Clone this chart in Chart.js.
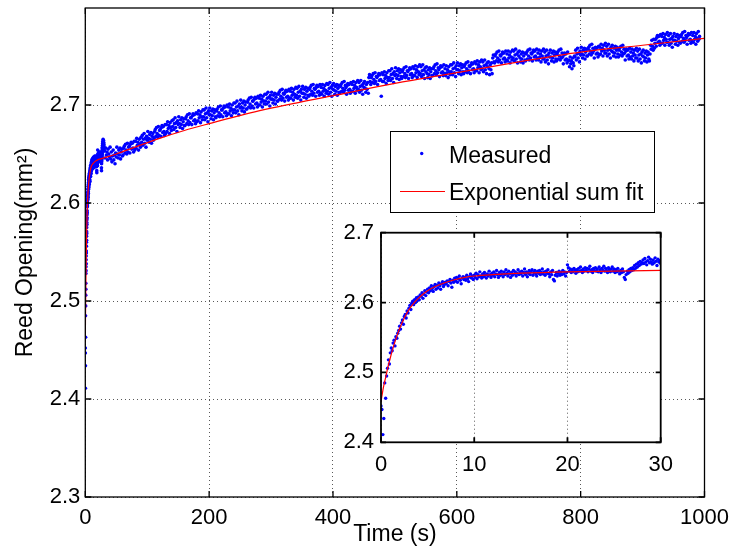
<!DOCTYPE html>
<html><head><meta charset="utf-8">
<script src="https://cdn.jsdelivr.net/npm/chart.js@4/dist/chart.umd.min.js"></script>
<style>
html,body{margin:0;padding:0;background:#fff;}
#wrap{position:relative;width:733px;height:556px;overflow:hidden;}
#main{position:absolute;left:0;top:0;}
#inset{position:absolute;left:330px;top:215px;}
</style></head><body>
<div id="wrap"><canvas id="main" width="733" height="556"></canvas><canvas id="inset" width="345" height="265"></canvas></div>
<script>
// ---- data ----
const seriesLabels = ['Measured', 'Exponential sum fit'];
const earlyStart = 0, earlyStep = 0.1;          // seconds, t = 0 .. 30
const measuredEarly = [
2.452,2.447,2.411,2.434,2.485,2.463,2.495,2.506,2.518,2.512,
2.528,2.535,2.531,2.542,2.546,2.538,2.551,2.549,2.556,2.560,
2.566,2.562,2.571,2.575,2.569,2.580,2.583,2.578,2.588,2.585,
2.592,2.596,2.590,2.599,2.602,2.597,2.604,2.600,2.607,2.603,
2.608,2.604,2.611,2.609,2.614,2.606,2.612,2.617,2.610,2.615,
2.619,2.614,2.621,2.617,2.624,2.620,2.616,2.623,2.626,2.619,
2.625,2.621,2.628,2.624,2.619,2.627,2.630,2.623,2.626,2.629,
2.627,2.631,2.624,2.630,2.633,2.628,2.622,2.632,2.629,2.635,
2.631,2.636,2.629,2.634,2.638,2.632,2.627,2.635,2.637,2.633,
2.636,2.632,2.639,2.634,2.630,2.637,2.641,2.635,2.638,2.633,
2.639,2.636,2.642,2.634,2.640,2.637,2.644,2.638,2.635,2.641,
2.637,2.643,2.639,2.635,2.641,2.638,2.645,2.640,2.636,2.642,
2.639,2.644,2.637,2.641,2.646,2.640,2.636,2.643,2.639,2.645,
2.641,2.637,2.644,2.640,2.647,2.642,2.638,2.645,2.641,2.636,
2.643,2.639,2.646,2.641,2.644,2.638,2.642,2.647,2.640,2.644,
2.641,2.645,2.638,2.643,2.648,2.640,2.644,2.637,2.642,2.646,
2.640,2.644,2.647,2.639,2.643,2.646,2.641,2.638,2.645,2.642,
2.646,2.640,2.643,2.648,2.641,2.644,2.639,2.645,2.642,2.647,
2.641,2.637,2.644,2.640,2.646,2.633,2.631,2.639,2.643,2.638,
2.642,2.645,2.639,2.643,2.640,2.646,2.641,2.644,2.638,2.643,
2.654,2.650,2.645,2.648,2.643,2.647,2.644,2.649,2.646,2.642,
2.647,2.644,2.649,2.645,2.651,2.646,2.643,2.648,2.645,2.650,
2.646,2.649,2.644,2.648,2.652,2.645,2.647,2.643,2.649,2.646,
2.650,2.645,2.648,2.644,2.651,2.647,2.643,2.649,2.646,2.652,
2.645,2.649,2.646,2.643,2.650,2.647,2.644,2.648,2.651,2.645,
2.648,2.643,2.647,2.644,2.649,2.645,2.641,2.646,2.643,2.648,
2.644,2.636,2.633,2.640,2.645,2.642,2.647,2.644,2.649,2.646,
2.650,2.647,2.653,2.649,2.655,2.651,2.657,2.653,2.659,2.655,
2.657,2.661,2.656,2.663,2.658,2.654,2.660,2.665,2.657,2.662,
2.658,2.655,2.661,2.657,2.664,2.659,2.653,2.662,2.658,2.660,
2.656];
const lateStart = 31, lateStep = 1;             // seconds, t = 31 .. 992
const measuredLate = [
2.653,2.646,2.656,2.649,2.652,2.644,2.655,2.650,2.647,2.657,
2.645,2.652,2.642,2.648,2.654,2.644,2.649,2.640,2.651,2.647,
2.657,2.650,2.646,2.654,2.649,2.656,2.645,2.652,2.655,2.648,
2.649,2.656,2.658,2.651,2.660,2.654,2.650,2.661,2.652,2.657,
2.658,2.651,2.660,2.662,2.655,2.661,2.656,2.652,2.663,2.654,
2.663,2.656,2.666,2.659,2.662,2.654,2.665,2.660,2.657,2.667,
2.662,2.669,2.659,2.665,2.671,2.661,2.666,2.657,2.668,2.664,
2.673,2.666,2.662,2.670,2.665,2.672,2.661,2.668,2.671,2.664,
2.666,2.673,2.675,2.668,2.677,2.671,2.667,2.678,2.669,2.674,
2.675,2.668,2.677,2.679,2.672,2.678,2.673,2.669,2.680,2.671,
2.680,2.673,2.683,2.676,2.679,2.671,2.682,2.677,2.674,2.684,
2.678,2.685,2.675,2.681,2.687,2.677,2.682,2.673,2.684,2.680,
2.688,2.681,2.677,2.685,2.680,2.687,2.676,2.683,2.686,2.679,
2.679,2.686,2.688,2.681,2.690,2.684,2.680,2.691,2.682,2.687,
2.687,2.680,2.689,2.691,2.684,2.690,2.685,2.681,2.692,2.683,
2.691,2.684,2.694,2.687,2.690,2.682,2.693,2.688,2.685,2.695,
2.688,2.695,2.685,2.691,2.697,2.687,2.692,2.683,2.694,2.690,
2.697,2.690,2.686,2.694,2.689,2.696,2.685,2.692,2.695,2.688,
2.687,2.694,2.696,2.689,2.698,2.692,2.688,2.699,2.690,2.695,
2.695,2.688,2.697,2.699,2.692,2.698,2.693,2.689,2.700,2.691,
2.698,2.691,2.701,2.694,2.697,2.689,2.700,2.695,2.692,2.702,
2.695,2.702,2.692,2.698,2.704,2.694,2.699,2.690,2.701,2.697,
2.705,2.698,2.694,2.702,2.697,2.704,2.693,2.700,2.703,2.696,
2.696,2.703,2.705,2.698,2.707,2.701,2.697,2.708,2.699,2.704,
2.704,2.697,2.706,2.708,2.701,2.707,2.702,2.698,2.709,2.700,
2.707,2.700,2.710,2.703,2.706,2.698,2.709,2.704,2.701,2.711,
2.704,2.711,2.701,2.707,2.713,2.703,2.708,2.699,2.710,2.706,
2.713,2.706,2.702,2.710,2.705,2.712,2.701,2.708,2.711,2.704,
2.704,2.711,2.713,2.706,2.715,2.709,2.705,2.716,2.707,2.712,
2.711,2.704,2.713,2.715,2.708,2.714,2.709,2.705,2.716,2.707,
2.714,2.707,2.717,2.710,2.713,2.705,2.716,2.711,2.708,2.718,
2.710,2.717,2.707,2.713,2.719,2.709,2.714,2.705,2.716,2.712,
2.719,2.712,2.708,2.716,2.711,2.718,2.707,2.714,2.717,2.710,
2.709,2.716,2.718,2.711,2.720,2.714,2.710,2.721,2.712,2.717,
2.716,2.709,2.718,2.720,2.713,2.719,2.714,2.710,2.721,2.712,
2.718,2.711,2.721,2.714,2.717,2.709,2.720,2.715,2.712,2.722,
2.714,2.721,2.711,2.717,2.723,2.713,2.718,2.709,2.720,2.716,
2.722,2.715,2.711,2.719,2.714,2.721,2.710,2.717,2.720,2.713,
2.712,2.719,2.721,2.714,2.723,2.717,2.713,2.724,2.715,2.720,
2.718,2.711,2.720,2.722,2.715,2.721,2.716,2.712,2.723,2.714,
2.721,2.714,2.724,2.717,2.720,2.712,2.723,2.718,2.715,2.725,
2.716,2.723,2.713,2.719,2.725,2.715,2.720,2.711,2.722,2.718,
2.724,2.717,2.713,2.721,2.716,2.723,2.712,2.728,2.731,2.724,
2.721,2.728,2.730,2.723,2.732,2.726,2.722,2.733,2.724,2.729,
2.728,2.721,2.730,2.732,2.725,2.731,2.726,2.709,2.733,2.724,
2.731,2.724,2.734,2.727,2.730,2.722,2.733,2.728,2.725,2.735,
2.728,2.735,2.725,2.731,2.737,2.727,2.732,2.723,2.734,2.730,
2.738,2.731,2.727,2.735,2.730,2.737,2.726,2.733,2.736,2.729,
2.727,2.734,2.736,2.729,2.738,2.732,2.728,2.739,2.730,2.735,
2.734,2.727,2.736,2.738,2.731,2.737,2.732,2.728,2.739,2.730,
2.737,2.730,2.740,2.733,2.736,2.728,2.739,2.734,2.731,2.741,
2.732,2.739,2.729,2.735,2.741,2.731,2.736,2.727,2.738,2.734,
2.739,2.732,2.728,2.736,2.731,2.738,2.727,2.734,2.737,2.730,
2.730,2.737,2.739,2.732,2.741,2.735,2.731,2.742,2.733,2.738,
2.736,2.729,2.738,2.740,2.733,2.739,2.734,2.730,2.741,2.732,
2.737,2.730,2.740,2.733,2.736,2.728,2.739,2.734,2.731,2.741,
2.734,2.741,2.731,2.737,2.743,2.733,2.738,2.729,2.740,2.736,
2.743,2.736,2.732,2.740,2.735,2.742,2.731,2.738,2.741,2.734,
2.732,2.739,2.741,2.734,2.743,2.737,2.733,2.744,2.735,2.740,
2.739,2.732,2.741,2.743,2.736,2.742,2.737,2.733,2.744,2.735,
2.742,2.735,2.745,2.738,2.741,2.733,2.744,2.739,2.736,2.746,
2.737,2.744,2.734,2.740,2.746,2.736,2.741,2.732,2.743,2.739,
2.744,2.737,2.731,2.741,2.736,2.743,2.732,2.748,2.751,2.744,
2.743,2.750,2.752,2.745,2.754,2.748,2.744,2.755,2.746,2.751,
2.750,2.743,2.752,2.754,2.747,2.753,2.748,2.744,2.755,2.746,
2.752,2.745,2.755,2.748,2.751,2.743,2.754,2.749,2.746,2.756,
2.748,2.755,2.745,2.751,2.757,2.747,2.752,2.743,2.754,2.750,
2.755,2.748,2.744,2.752,2.747,2.754,2.743,2.750,2.753,2.746,
2.745,2.752,2.754,2.747,2.756,2.750,2.746,2.757,2.748,2.753,
2.752,2.745,2.754,2.756,2.749,2.755,2.750,2.746,2.757,2.748,
2.753,2.746,2.756,2.749,2.752,2.744,2.755,2.750,2.747,2.757,
2.747,2.754,2.744,2.750,2.756,2.746,2.751,2.742,2.753,2.749,
2.756,2.749,2.745,2.753,2.748,2.755,2.744,2.751,2.754,2.747,
2.745,2.752,2.754,2.747,2.756,2.750,2.746,2.757,2.748,2.753,
2.749,2.742,2.751,2.753,2.746,2.752,2.747,2.743,2.754,2.745,
2.746,2.739,2.749,2.742,2.745,2.737,2.748,2.743,2.740,2.750,
2.749,2.756,2.746,2.752,2.758,2.748,2.753,2.744,2.755,2.751,
2.759,2.752,2.748,2.756,2.751,2.758,2.747,2.754,2.757,2.750,
2.750,2.757,2.759,2.752,2.761,2.755,2.751,2.762,2.753,2.758,
2.755,2.748,2.757,2.759,2.752,2.758,2.753,2.749,2.760,2.751,
2.759,2.752,2.762,2.755,2.758,2.750,2.761,2.756,2.753,2.763,
2.753,2.760,2.750,2.756,2.762,2.752,2.757,2.748,2.759,2.755,
2.761,2.754,2.750,2.758,2.753,2.760,2.749,2.756,2.759,2.752,
2.749,2.756,2.758,2.751,2.760,2.754,2.750,2.761,2.752,2.757,
2.753,2.746,2.755,2.757,2.750,2.756,2.751,2.747,2.758,2.749,
2.754,2.747,2.757,2.750,2.753,2.745,2.756,2.751,2.748,2.758,
2.748,2.755,2.745,2.751,2.757,2.747,2.752,2.743,2.754,2.750,
2.756,2.749,2.745,2.753,2.748,2.755,2.744,2.751,2.754,2.747,
2.745,2.752,2.761,2.757,2.766,2.760,2.756,2.767,2.758,2.763,
2.767,2.760,2.769,2.771,2.764,2.770,2.765,2.761,2.772,2.763,
2.770,2.763,2.773,2.766,2.769,2.761,2.772,2.767,2.764,2.774,
2.764,2.771,2.761,2.767,2.773,2.763,2.768,2.759,2.770,2.766,
2.773,2.766,2.762,2.770,2.765,2.772,2.761,2.768,2.771,2.764,
2.763,2.770,2.772,2.765,2.774,2.768,2.764,2.775,2.766,2.771,
2.769,2.762,2.771,2.773,2.766,2.772,2.767,2.763,2.774,2.765,
2.771,2.764,2.774,2.767,2.770,2.762,2.773,2.768,2.765,2.775,
2.767,2.770];
const fitTimes  = [0,0.25,0.5,0.75,1,1.25,1.5,1.75,2,2.5,3,3.5,4,4.5,5,6,7,8,9,10,12,15,20,25,30,50,80,120,160,200,260,340,400,500,600,700,800,900,1000];
const fitValues = [2.458,2.478,2.493,2.508,2.521,2.533,2.544,2.554,2.563,2.578,2.590,2.599,2.606,2.612,2.617,2.624,2.629,2.633,2.636,2.638,2.640,2.642,2.644,2.645,2.646,2.650,2.657,2.666,2.674,2.681,2.691,2.702,2.7095,2.722,2.733,2.744,2.754,2.761,2.768];
const xTicksMain  = [0,200,400,600,800,1000];
const yTicksMain  = [2.3,2.4,2.5,2.6,2.7];
const xTicksInset = [0,10,20,30];
const yTicksInset = [2.4,2.5,2.6,2.7];

// ---- build points ----
const earlyPts = measuredEarly.map((v,i)=>({x: +(earlyStart + i*earlyStep).toFixed(2), y: v}));
const latePts  = measuredLate.map((v,i)=>({x: lateStart + i*lateStep, y: v}));
const allPts = earlyPts.concat(latePts);
const fitPts = fitTimes.map((t,i)=>({x:t, y:fitValues[i]}));

const FONT = "'Liberation Sans', Arial, Helvetica, sans-serif";
const BLUE = '#0000ff', RED = '#ff0000';
const GRID = 'rgba(0,0,0,0.65)';

const framePlugin = {
  id: 'frame',
  beforeDraw(chart, args, o) {
    if (!o.fill) return;
    const a = chart.chartArea, ctx = chart.ctx;
    ctx.save(); ctx.fillStyle = o.fill;
    ctx.fillRect(a.left, a.top, a.right - a.left, a.bottom - a.top);
    ctx.restore();
  },
  afterDraw(chart, args, o) {
    const {ctx, chartArea: a, scales: {x, y}} = chart;
    ctx.save();
    ctx.strokeStyle = '#000'; ctx.lineWidth = o.lineWidth || 1;
    ctx.strokeRect(a.left, a.top, a.right - a.left, a.bottom - a.top);
    const L = o.tickLen || 5;
    ctx.beginPath();
    x.ticks.forEach(t => { const p = x.getPixelForValue(t.value);
      ctx.moveTo(p, a.bottom); ctx.lineTo(p, a.bottom - L);
      ctx.moveTo(p, a.top); ctx.lineTo(p, a.top + L); });
    y.ticks.forEach(t => { const p = y.getPixelForValue(t.value);
      ctx.moveTo(a.left, p); ctx.lineTo(a.left + L, p);
      ctx.moveTo(a.right, p); ctx.lineTo(a.right - L, p); });
    ctx.stroke();
    ctx.restore();
  }
};

const boxLegend = {
  id: 'boxLegend',
  afterDraw(chart, args, o) {
    if (!o.show) return;
    const ctx = chart.ctx;
    const meas = chart.data.datasets.find(d => d.label === seriesLabels[0]);
    const fit  = chart.data.datasets.find(d => d.label === seriesLabels[1]);
    ctx.save();
    ctx.fillStyle = '#fff'; ctx.fillRect(o.x, o.y, o.w, o.h);
    ctx.strokeStyle = '#000'; ctx.lineWidth = 1; ctx.strokeRect(o.x, o.y, o.w, o.h);
    ctx.fillStyle = meas.backgroundColor; ctx.beginPath();
    ctx.arc(o.markX, o.row1, 1.7, 0, Math.PI * 2); ctx.fill();
    ctx.strokeStyle = fit.borderColor; ctx.lineWidth = 1.2; ctx.beginPath();
    ctx.moveTo(o.lineX0, o.row2); ctx.lineTo(o.lineX1, o.row2); ctx.stroke();
    ctx.fillStyle = '#000'; ctx.font = o.fontSize + 'px ' + FONT; ctx.textBaseline = 'alphabetic'; ctx.textAlign = 'left';
    ctx.fillText(meas.label, o.textX, o.base1);
    ctx.fillText(fit.label, o.textX, o.base2);
    ctx.restore();
  }
};

function datasets(meas, r) {
  return [
    {label: seriesLabels[1], type: 'line', data: fitPts, borderColor: RED, backgroundColor: RED,
     borderWidth: 1.2, pointRadius: 0, fill: false, cubicInterpolationMode: 'monotone', order: 0},
    {label: seriesLabels[0], type: 'scatter', data: meas, backgroundColor: BLUE, borderColor: BLUE,
     pointRadius: r, borderWidth: 0, order: 1}
  ];
}

function axis(min, max, ticks, fmt, size, horizontal, padding, title) {
  const o = {
    type: 'linear', min, max,
    afterBuildTicks: s => { s.ticks = ticks.map(v => ({value: v})); },
    afterFit: s => {
      if (horizontal) { s.height = size; s.paddingLeft = 0; s.paddingRight = 0; }
      else { s.width = size; s.paddingTop = 0; s.paddingBottom = 0; }
    },
    grid: {color: GRID, lineWidth: 1, drawTicks: false},
    border: {display: false, dash: [1, 3]},
    ticks: {font: {family: FONT, size: 22}, color: '#000', padding, autoSkip: false, maxRotation: 0, callback: fmt}
  };
  if (title) o.title = title;
  return o;
}

new Chart(document.getElementById('main'), {
  type: 'scatter',
  data: {datasets: datasets(allPts, 1.8)},
  options: {
    responsive: false, animation: false, devicePixelRatio: 1,
    layout: {padding: {left: 0, right: 28.5, top: 8, bottom: 0}},
    plugins: {
      legend: {display: false}, tooltip: {enabled: false},
      frame: {lineWidth: 1.3, tickLen: 6},
      boxLegend: {show: true, x: 390.5, y: 131.5, w: 264, h: 81, markX: 421.7, row1: 153.5,
                  lineX0: 400, lineX1: 445, row2: 191.5, textX: 449, base1: 162.5, base2: 200, fontSize: 23}
    },
    scales: {
      x: axis(0, 1000, xTicksMain, v => String(v), 59, true, 8,
              {display: true, text: 'Time (s)', color: '#000', font: {family: FONT, size: 23}, padding: {top: 0, bottom: 8}}),
      y: axis(2.3, 2.799, yTicksMain, v => v.toFixed(1), 85.3, false, 5,
              {display: true, text: 'Reed Opening(mm\u00B2)', color: '#000', font: {family: FONT, size: 23}, padding: {top: 12, bottom: 0}})
    }
  },
  plugins: [framePlugin, boxLegend]
});

new Chart(document.getElementById('inset'), {
  type: 'scatter',
  data: {datasets: datasets(earlyPts, 1.7)},
  options: {
    responsive: false, animation: false, devicePixelRatio: 1,
    layout: {padding: {left: 0, right: 14.3, top: 17.7, bottom: 0}},
    plugins: {legend: {display: false}, tooltip: {enabled: false},
              frame: {fill: '#fff', lineWidth: 1.8, tickLen: 5}, boxLegend: {show: false}},
    scales: {
      x: axis(0, 30, xTicksInset, v => String(v), 37.7, true, 9),
      y: axis(2.4, 2.7, yTicksInset, v => v.toFixed(1), 51, false, 7)
    }
  },
  plugins: [framePlugin, boxLegend]
});
</script>
</body></html>
